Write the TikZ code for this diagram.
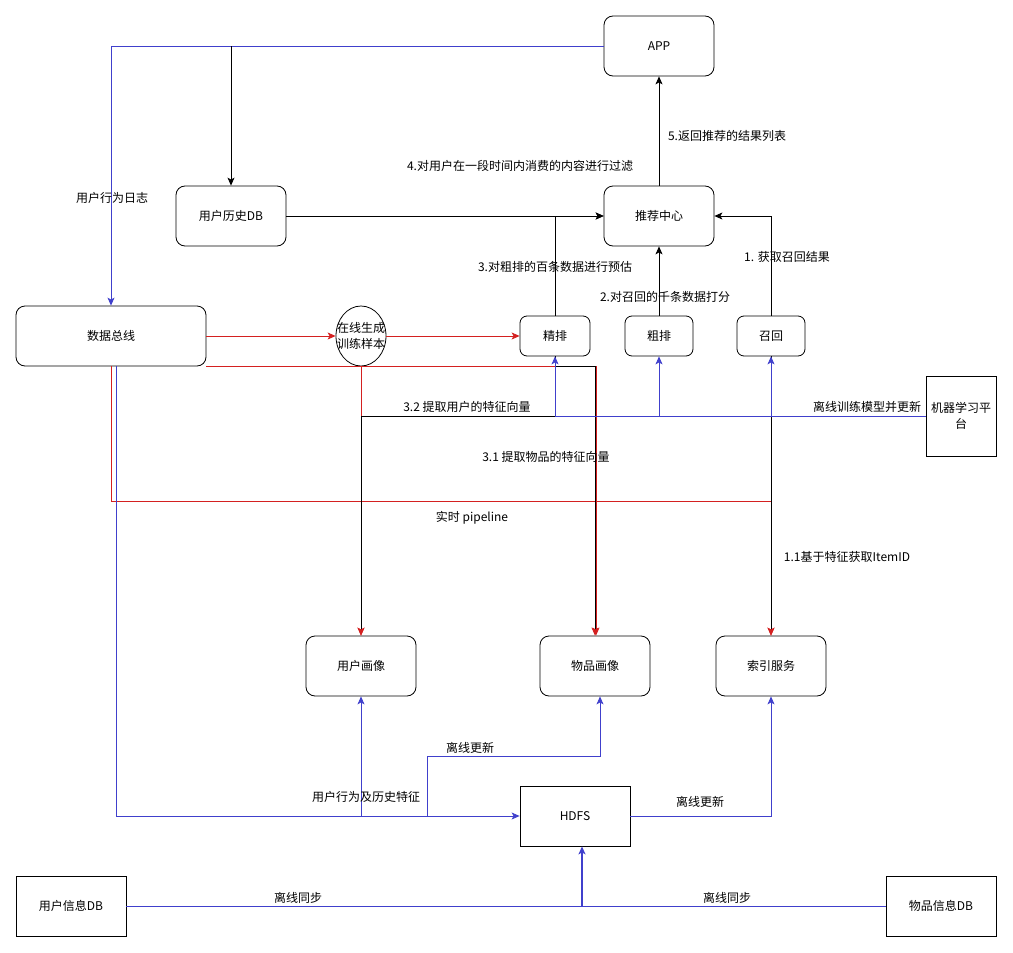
\documentclass[tikz,border=0pt]{standalone}
\usepackage{fontspec}
\setmainfont{Noto Sans CJK SC}
\usetikzlibrary{arrows.meta,shapes.geometric}
\definecolor{flowblue}{RGB}{64,64,204}
\definecolor{flowred}{RGB}{212,32,32}

\begin{document}
\begin{tikzpicture}[x=1pt, y=-1pt, line width=0.8pt,
  >={Stealth[length=8pt,width=7pt,inset=2pt]},
  every node/.style={font=\fontsize{12}{16}\selectfont},
  rbox/.style={draw, rounded corners=9pt, minimum width=110pt, minimum height=60pt},
  sbox/.style={draw, minimum width=110pt, minimum height=60pt},
  smallbox/.style={draw, rounded corners=7pt, minimum width=68pt, minimum height=40pt},
  bl/.style={draw=flowblue, ->},
  rd/.style={draw=flowred, ->},
  redtip/.style={-{Stealth[length=8pt,width=7pt,inset=2pt,color=flowred]}}]
  \useasboundingbox (0,0) rectangle (1013,953);

  % online part
  \node[rbox] (app) at (659,46) {APP};
  \node[rbox] (rec) at (659,216) {推荐中心};
  \node[rbox] (histdb) at (231,216) {用户历史DB};
  \node[rbox, minimum width=190pt] (bus) at (111,336) {数据总线};
  \node[ellipse, draw, minimum width=50pt, minimum height=60pt, inner sep=0pt,
    label={[align=center, font=\fontsize{12}{16}\selectfont]center:在线生成\\训练样本}] (sample) at (361,336) {};
  \node[smallbox, minimum width=70pt] (fine) at (555,336) {精排};
  \node[smallbox] (coarse) at (659,336) {粗排};
  \node[smallbox] (recall) at (771,336) {召回};
  \node[draw, minimum width=70pt, minimum height=80pt, align=center] (mlp) at (961,416) {机器学习平\\台};

  % profiles and storage
  \node[rbox] (userprof) at (361,666) {用户画像};
  \node[rbox] (itemprof) at (595,666) {物品画像};
  \node[rbox] (index) at (771,666) {索引服务};
  \node[sbox] (hdfs) at (575,816) {HDFS};
  \node[sbox] (userdb) at (71,906) {用户信息DB};
  \node[sbox] (itemdb) at (941,906) {物品信息DB};

  % user log
  \draw[bl] (app.west) -| (bus.north);
  \draw[->] (histdb.north |- app.west) -- (histdb.north);
  \node at (112,198) {用户行为日志};

  % serving
  \draw[->] (histdb.east) -- (rec.west);
  \draw[->] (fine.north) |- (rec.west);
  \draw[->] (coarse.north) -- (rec.south);
  \draw[->] (recall.north) |- (rec.east);
  \draw[->] (rec.north) -- (app.south);
  \node at (520,166) {4.对用户在一段时间内消费的内容进行过滤};
  \node at (727,136) {5.返回推荐的结果列表};
  \node at (555,267) {3.对粗排的百条数据进行预估};
  \node at (665,297) {2.对召回的千条数据打分};
  \node at (787,257) {1. 获取召回结果};

  % real-time pipeline
  \draw[rd] (bus.east) -- (sample.west);
  \draw[rd] (sample.east) -- (fine.west);
  \draw[rd] (sample.south) -- (userprof.north);
  \draw[rd] (bus.south east) -| ([xshift=1pt]itemprof.north);
  \draw[rd] (bus.south) -- ++(0,135) -| (index.north);
  \node at (472,518) {实时 pipeline};

  % feature vectors
  \draw[redtip] (fine.south) -- (fine.south |- mlp.west) -| (userprof.north);
  \draw[redtip] (fine.south) -- ++(0,10) -| (itemprof.north);
  \draw[redtip] (recall.south) -- (index.north);
  \node at (467,407) {3.2 提取用户的特征向量};
  \node at (546,457) {3.1 提取物品的特征向量};
  \node at (847,557) {1.1基于特征获取ItemID};

  % offline model
  \draw[bl] (mlp.west) -| (fine.south);
  \draw[bl] (coarse.south |- mlp.west) -- (coarse.south);
  \draw[bl] (recall.south |- mlp.west) -- (recall.south);
  \node at (867,407) {离线训练模型并更新};

  % offline data
  \draw[bl] ([xshift=5pt]bus.south) |- (hdfs.west);
  \draw[bl] (userprof.south |- hdfs.west) -- (userprof.south);
  \coordinate (tap) at (427,816);
  \draw[bl] (tap) -- ++(0,-60) -| ([xshift=5pt]itemprof.south);
  \draw[bl] (hdfs.east) -| (index.south);
  \node at (366,797) {用户行为及历史特征};
  \node at (470,748) {离线更新};
  \node at (700,802) {离线更新};

  % sync
  \coordinate (sync) at ([xshift=7pt]hdfs.south |- userdb.east);
  \draw[draw=flowblue] (userdb.east) -- (itemdb.west);
  \draw[bl, line width=1.5pt] (sync) -- ([xshift=7pt]hdfs.south);
  \node at (298,898) {离线同步};
  \node at (727,898) {离线同步};
\end{tikzpicture}
\end{document}
